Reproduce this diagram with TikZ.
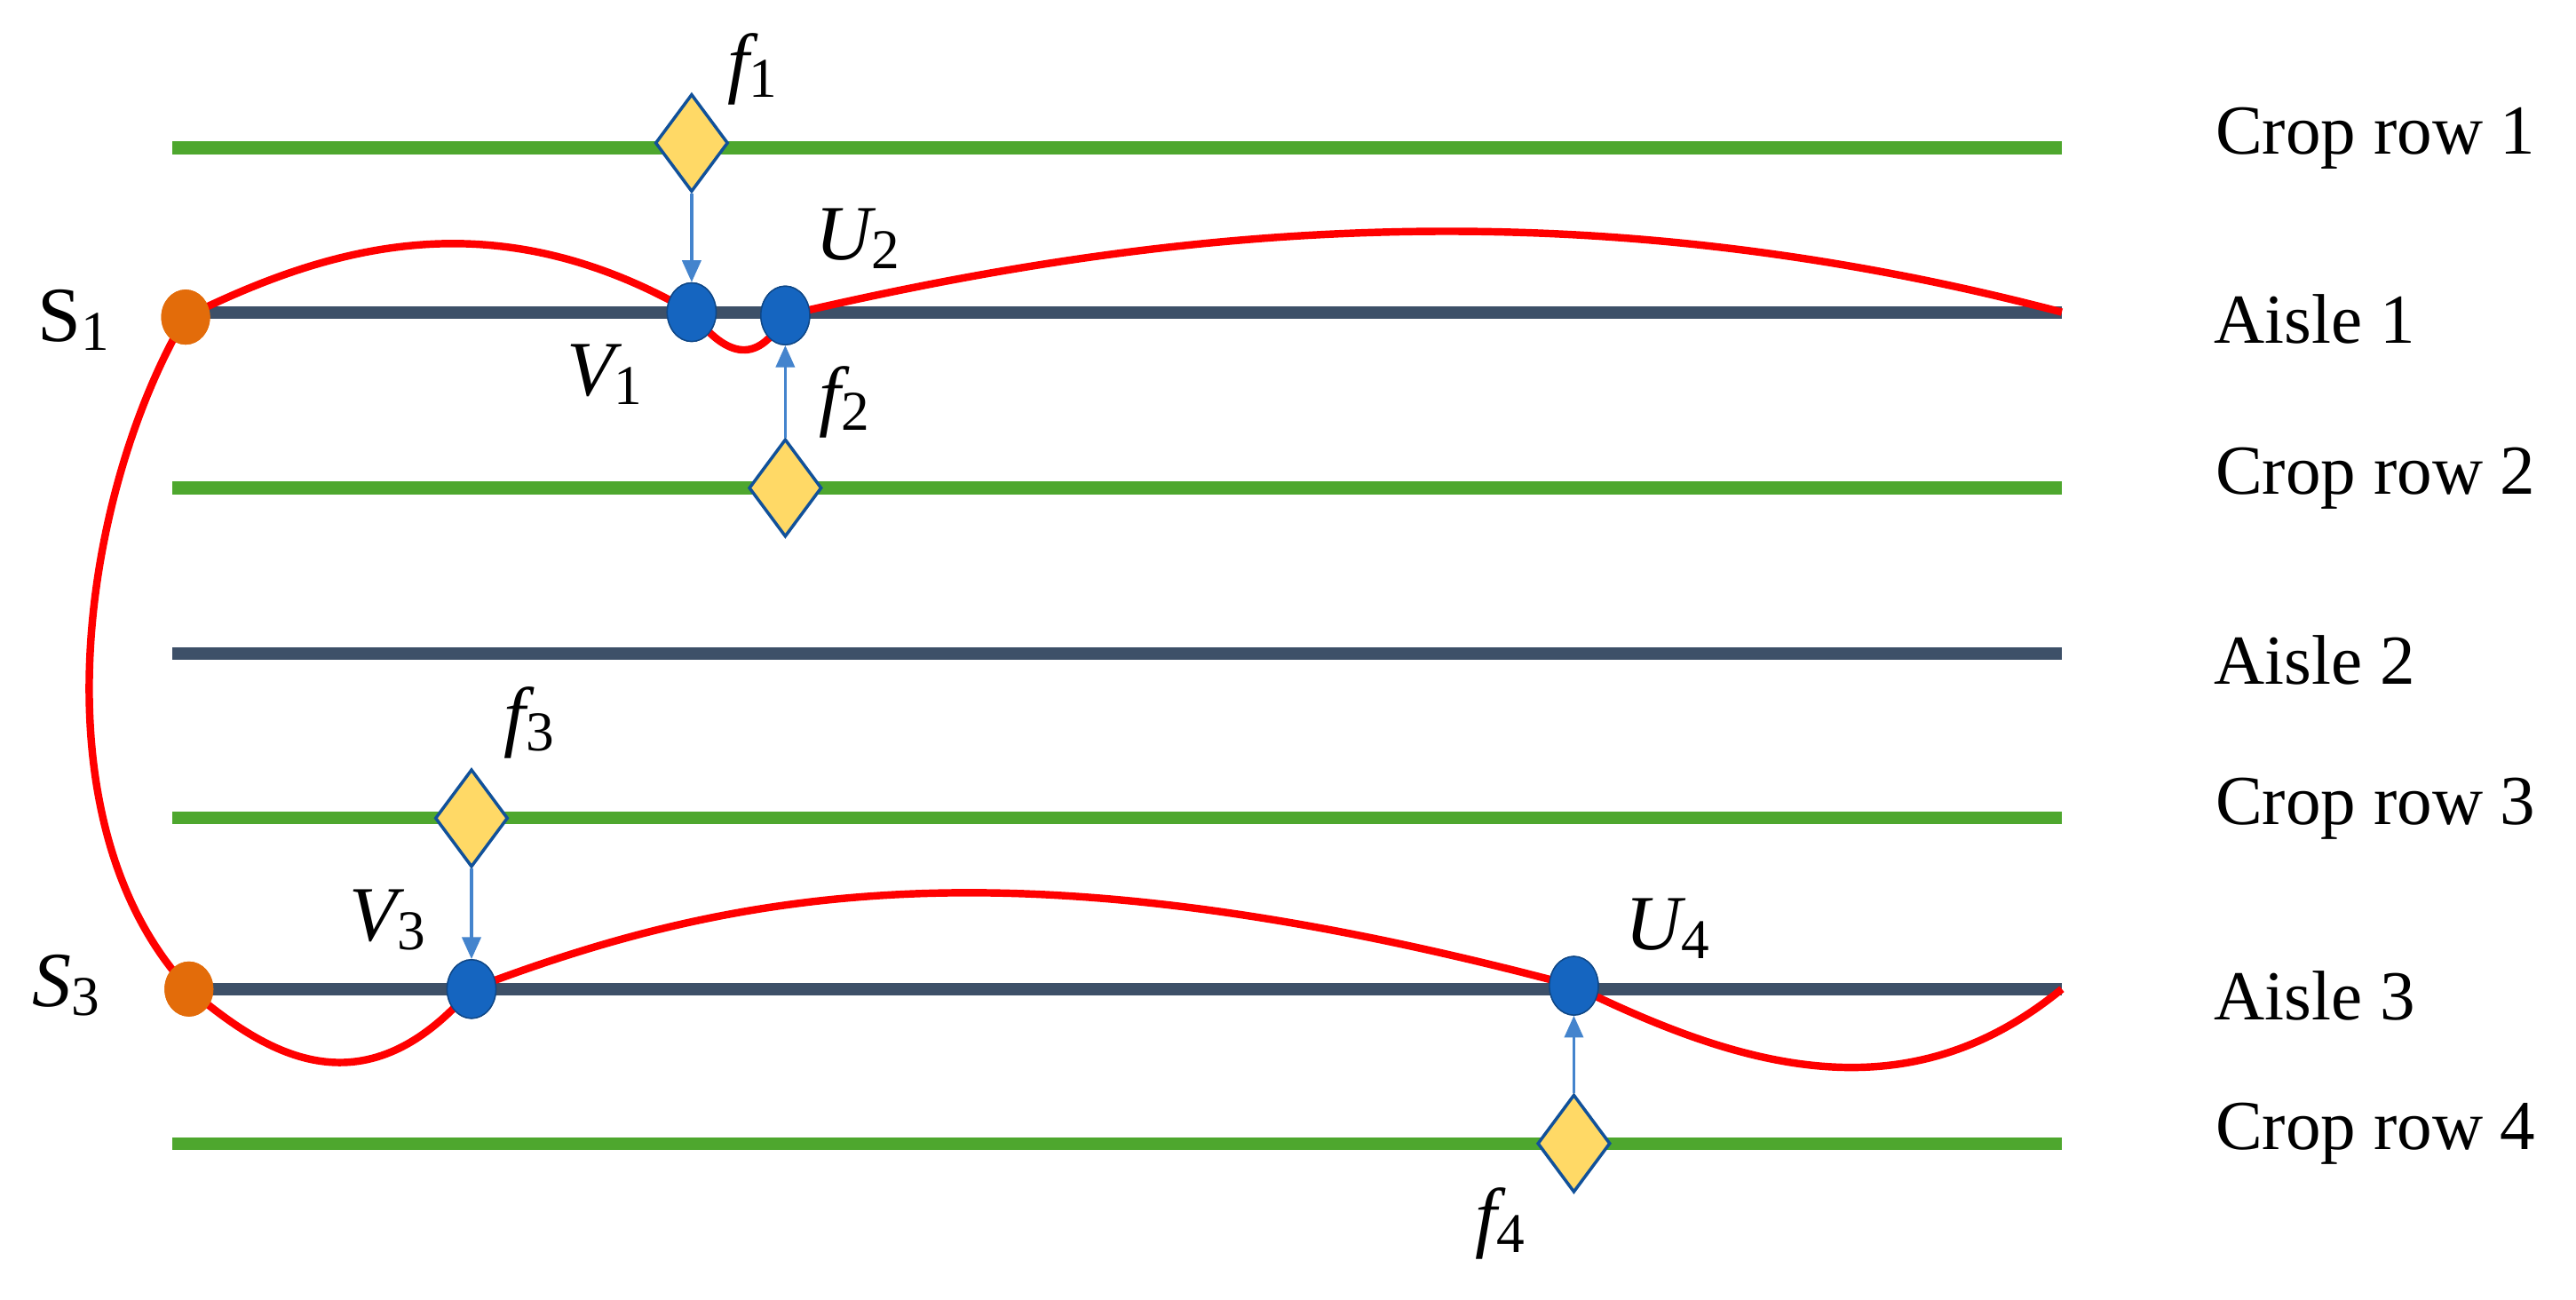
\documentclass[tikz,border=0pt]{standalone}
\usepackage{fontspec}
\setmainfont{Liberation Serif}
\usetikzlibrary{shapes.geometric,arrows.meta}
\definecolor{crop}{HTML}{4EA72E}
\definecolor{aisle}{HTML}{3D5068}
\definecolor{dot}{HTML}{1565C0}
\definecolor{sdot}{HTML}{E36C0A}
\definecolor{dia}{HTML}{FFD966}
\begin{document}
\begin{tikzpicture}[x=0.0185cm,y=-0.0185cm,
  croprow/.style={crop,line width=4pt},
  aislel/.style={aisle,line width=4pt},
  bdot/.style={ellipse,fill=dot,draw=dot!70!black,minimum width=0.55cm,minimum height=0.66cm,inner sep=0},
  odot/.style={ellipse,fill=sdot,minimum width=0.55cm,minimum height=0.62cm,inner sep=0},
  fdia/.style={diamond,fill=dia,draw=dot!80!black,line width=1pt,minimum width=0.82cm,minimum height=1.1cm,inner sep=0,aspect=0.73},
  arr/.style={-{Triangle[length=7pt,width=6pt]},dot!80!white,line width=1pt},
  lab/.style={font=\fontsize{22.5}{25}\selectfont},
  ilab/.style={font=\fontsize{25}{28}\selectfont},
  route/.style={red,line width=2.4pt}]
\useasboundingbox (0,0) rectangle (1568,791);
\newcommand\ilbl[2]{{\itshape #1}\raisebox{-0.25ex}{\fontsize{18}{20}\selectfont #2}}
\foreach \y/\n in {90/1,297/2,498/3,696/4}{
  \draw[croprow] (105,\y) -- (1255,\y);
  \node[lab] at (1446,\y-6) {Crop row \n};}
\foreach \y/\n in {190/1,398/2,602/3}{
  \draw[aislel] (105,\y) -- (1255,\y);
  \node[lab] at (1409,\y+4) {Aisle \n};}
\coordinate (E1) at (1255,190);
\coordinate (E3) at (1255,602);
\node[odot] (S1) at (113,193) {};
\node[odot] (S3) at (115,602) {};
\node[bdot] (V1) at (421,190) {};
\node[bdot] (U2) at (478,192) {};
\node[bdot] (V3) at (287,602) {};
\node[bdot] (U4) at (958,600) {};
\draw[route] (S1.center) .. controls (200,150) and (300,120) .. (V1.center)
  .. controls (440,215) and (460,225) .. (U2.center)
  .. controls (700,140) and (950,110) .. (E1);
\draw[route] (S1.center) .. controls (50,300) and (20,500) .. (S3.center);
\draw[route] (S3.center) .. controls (160,640) and (220,680) .. (V3.center)
  .. controls (450,540) and (620,510) .. (U4.center)
  .. controls (1060,650) and (1160,680) .. (E3);
\node[odot] at (S1) {};
\node[odot] at (S3) {};
\foreach \p in {V1,U2,V3,U4} \node[bdot] at (\p) {};
\node[fdia] (f1) at (421,87) {};
\node[fdia] (f2) at (478,297) {};
\node[fdia] (f3) at (287,498) {};
\node[fdia] (f4) at (958,696) {};
\draw[arr] (f1.south) -- (V1.north);
\draw[arr] (f2.north) -- (U2.south);
\draw[arr] (f3.south) -- (V3.north);
\draw[arr] (f4.north) -- (U4.south);
\node[ilab] at (458,42) {\ilbl{f}{1}};
\node[ilab] at (522,145) {\ilbl{U}{2}};
\node[ilab] at (368,228) {\ilbl{V}{1}};
\node[ilab] at (514,245) {\ilbl{f}{2}};
\node[ilab] at (322,440) {\ilbl{f}{3}};
\node[ilab] at (236,560) {\ilbl{V}{3}};
\node[ilab] at (1015,565) {\ilbl{U}{4}};
\node[ilab] at (913,745) {\ilbl{f}{4}};
\node[ilab] at (45,195) {S\raisebox{-0.25ex}{\fontsize{18}{20}\selectfont 1}};
\node[ilab] at (40,600) {\ilbl{S}{3}};
\end{tikzpicture}
\end{document}
